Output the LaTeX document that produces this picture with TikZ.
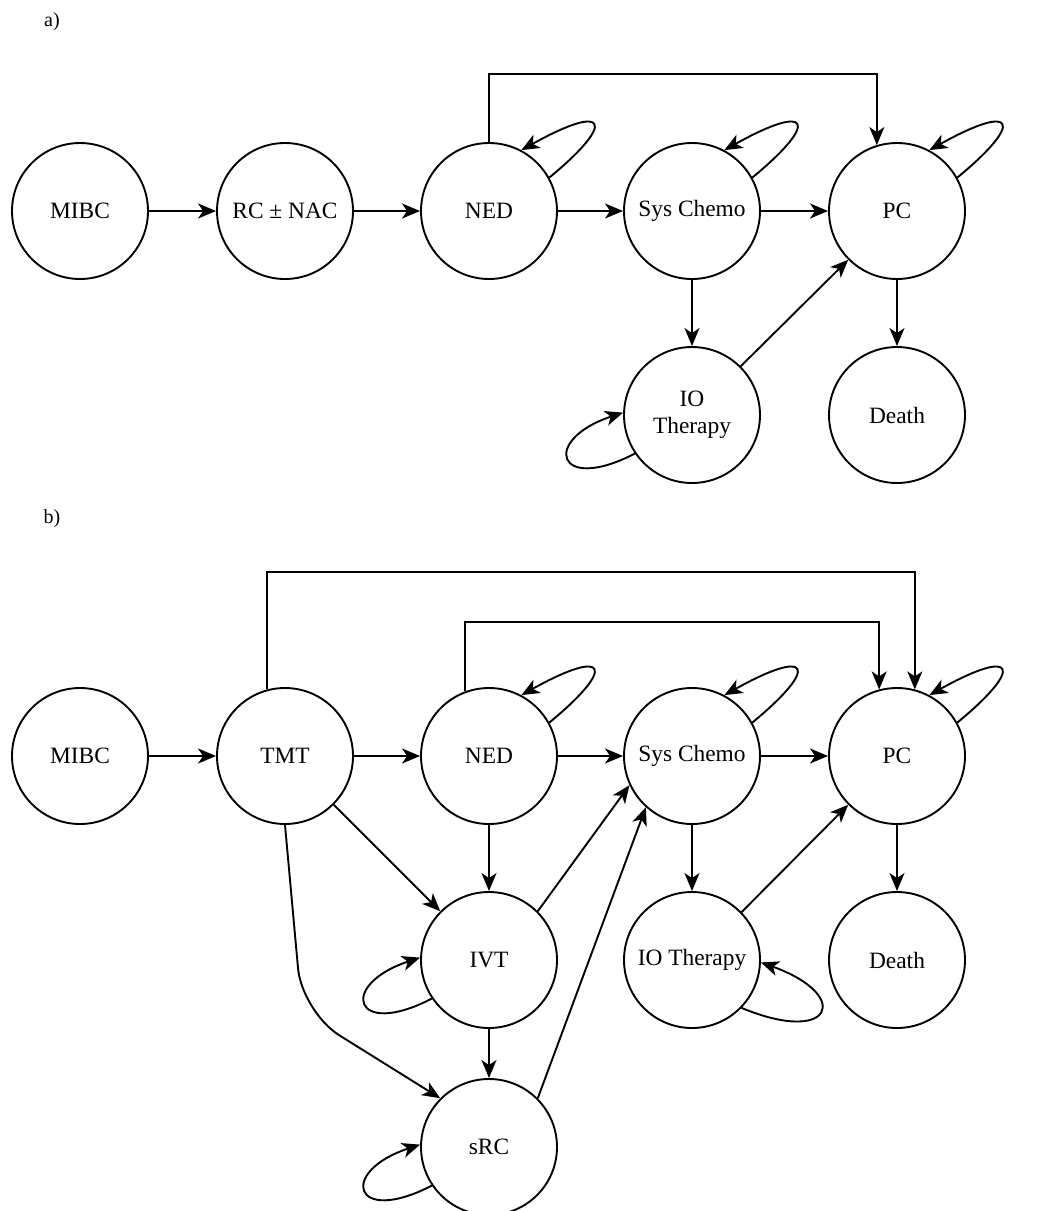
\documentclass[tikz,border=0pt]{standalone}
\usepackage{fontspec}
\setmainfont{Liberation Serif}
\usetikzlibrary{arrows.meta}
\begin{document}
\begin{tikzpicture}[x=0.5pt,y=-0.5pt,
  state/.style={circle,draw,line width=0.95pt,minimum size=68pt,inner sep=0pt,
    font=\fontsize{11.7}{13.5}\selectfont,align=center},
  lbl/.style={font=\fontsize{10}{12}\selectfont,inner sep=0pt},
  edge/.style={line width=0.95pt,-{Stealth[length=9pt,width=7.5pt,inset=2.5pt]}},
]
\useasboundingbox (0,0) rectangle (1063,1211);
% ---------- a) ----------
\node[lbl] (la) at (52,22) {a)};
\node[state] (a1) at (80,211) {MIBC};
\node[state] (a2) at (285,211) {RC ± NAC};
\node[state] (a3) at (489,211) {NED};
\node[state] (a4) at (692,211) {Sys Chemo};
\node[state] (a5) at (897,211) {PC};
\node[state] (a6) at (692,415) {IO\\Therapy};
\node[state] (a7) at (897,415) {Death};
\draw[edge] (a1) -- (a2);
\draw[edge] (a2) -- (a3);
\draw[edge] (a3) -- (a4);
\draw[edge] (a4) -- (a5);
\draw[edge] (a4) -- (a6);
\draw[edge] (a5) -- (a7);
\draw[edge] (a6.45) -- (a5.225);
\draw[edge] (a3.north) -- ++(0,-68) -| (a5.107);
\foreach \n in {a3,a4,a5}
  \draw[edge] (\n.29) .. controls +(68,-56) and +(86,-48) .. (\n.62);
\draw[edge] (a6.214) .. controls +(-79,41) and +(-82,27) .. (a6.178);
% ---------- b) ----------
\node[lbl] (lb) at (52,519) {b)};
\node[state] (b1) at (80,756) {MIBC};
\node[state] (b2) at (285,756) {TMT};
\node[state] (b3) at (489,756) {NED};
\node[state] (b4) at (692,756) {Sys Chemo};
\node[state] (b5) at (897,756) {PC};
\node[state] (b6) at (489,960) {IVT};
\node[state] (b7) at (692,960) {IO Therapy};
\node[state] (b8) at (897,960) {Death};
\node[state] (b9) at (489,1147) {sRC};
\coordinate (tmtTop) at (0,572);
\coordinate (nedTop) at (0,622);
\coordinate (bend) at (302,1012);
\draw[edge] (b1) -- (b2);
\draw[edge] (b2) -- (b3);
\draw[edge] (b3) -- (b4);
\draw[edge] (b4) -- (b5);
\draw[edge] (b3) -- (b6);
\draw[edge] (b6) -- (b9);
\draw[edge] (b4) -- (b7);
\draw[edge] (b5) -- (b8);
\draw[edge] (b2) -- (b6);
\draw[edge] (b6.45) -- (b4.205);
\draw[edge] (b9.45) -- (b4.228);
\draw[edge] (b7.44) -- (b5.225);
\draw[edge,rounded corners=22] (b2.270) -- (bend) -- (b9.135);
\draw[edge] (b2.105) -- (b2.105 |- tmtTop) -| (b5.75.5);
\draw[edge] (b3.110.7) -- (b3.110.7 |- nedTop) -| (b5.105.3);
\foreach \n in {b3,b4,b5}
  \draw[edge] (\n.29) .. controls +(68,-56) and +(86,-48) .. (\n.62);
\draw[edge] (b6.214) .. controls +(-79,41) and +(-82,27) .. (b6.178);
\draw[edge] (b9.214) .. controls +(-79,41) and +(-82,27) .. (b9.178);
\draw[edge] (b7.316) .. controls +(91,38) and +(92,33) .. (b7.358);
\end{tikzpicture}
\end{document}
